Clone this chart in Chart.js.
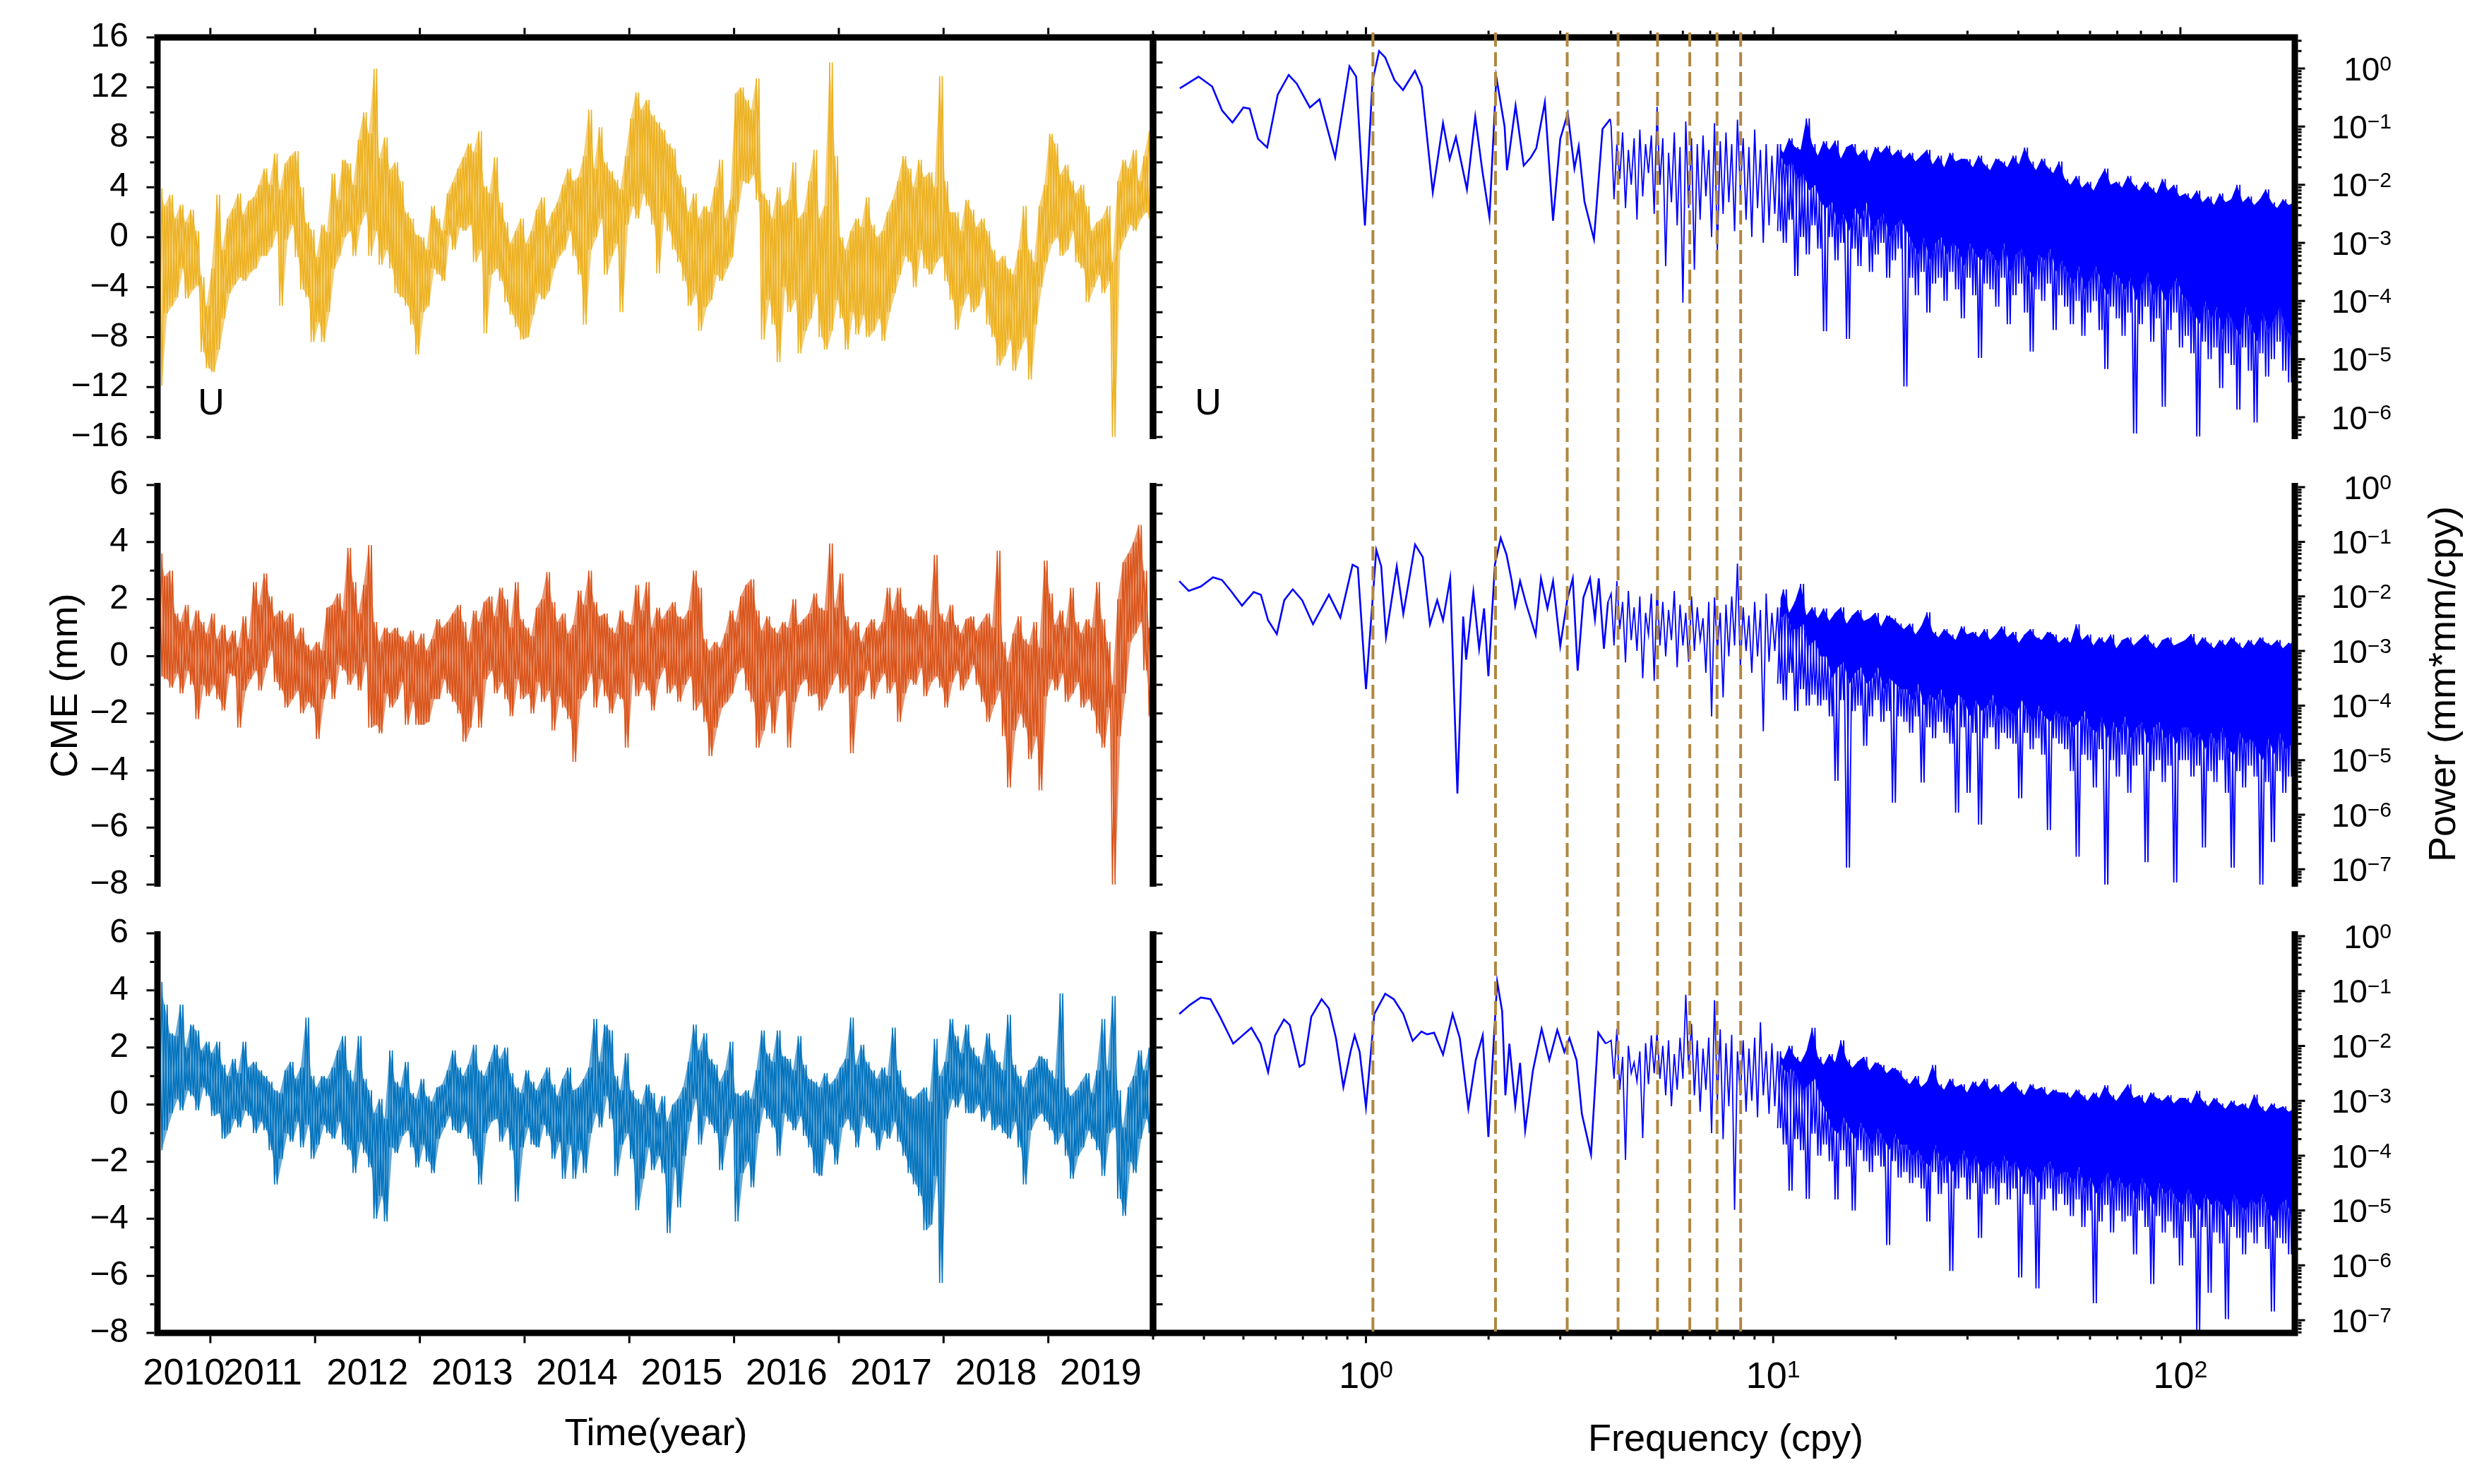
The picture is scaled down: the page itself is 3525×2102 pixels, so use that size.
<!DOCTYPE html>
<html><head><meta charset="utf-8">
<script src="https://cdn.jsdelivr.net/npm/chart.js@4.4.0/dist/chart.umd.min.js"></script>
<style>
html,body{margin:0;padding:0;background:#fff;}
body{width:3525px;height:2102px;position:relative;overflow:hidden;font-family:"Liberation Sans",Arial,sans-serif;}
canvas{position:absolute;}
.title{position:absolute;font-size:54px;color:#000;white-space:nowrap;line-height:1;transform:translate(-50%,-50%);}
.rot{transform:translate(-50%,-50%) rotate(-90deg);}
</style></head><body>
<div class="title rot" style="left:90px;top:971px">CME (mm)</div>
<div class="title rot" style="left:3458px;top:969px">Power (mm*mm/cpy)</div>
<div class="title" style="left:929px;top:2028px">Time(year)</div>
<div class="title" style="left:2444px;top:2036px">Frequency (cpy)</div>
<script>
// ===================== DATA =====================
// time axis (years)
const yearTicks = [2011, 2012, 2013, 2014, 2015, 2016, 2017, 2018, 2019];
const yearLabels = ['2010', '2011', '2012', '2013', '2014', '2015', '2016', '2017', '2018', '2019'];
const tsStart = 2010.5, tsBin = 0.05;           // 0.05-yr bins, each with a high and a low reading
const uYTicks = [-16, -12, -8, -4, 0, 4, 8, 12, 16];
const enYTicks = [-8, -6, -4, -2, 0, 2, 4, 6];

// U component (mm): per-bin high / low
const uHigh = [3.9,2.5,3.4,1.5,2.6,1.2,2.2,0.5,-3.2,-5.5,
 -2.5,3.4,-1,1.5,2.3,3.5,1.8,2.9,3.2,4.2,
 5.5,4.2,6.7,3.8,5.9,6.5,6.9,4,1.2,0.6,
 -1.6,1,0.4,5.1,3,6.2,5.9,4.2,7.8,10,
 8.3,13.5,6.3,8,5.4,6,4.5,2,1.5,0.2,
 0,-1,2.5,1.5,0.5,3.5,4.4,5.5,6.4,7.5,
 6.8,8.5,4.1,3.5,6.4,2.8,1.2,-0.5,0.5,1.5,
 -0.5,0.5,2.2,3.2,0.9,2,2.8,4.2,5.5,4.5,
 4.8,6.5,10.2,5.5,8.8,6,5.3,4.6,3.8,6.5,
 9.5,11.6,10.2,11,9.8,9.2,8.6,7.5,7.1,5,
 4,2,3.5,1.5,2.5,2,4,6.2,1.5,3,
 11.5,12,11,10.2,12.7,3.5,3,1.5,4,2.5,
 3,6,1.5,2,4.5,7,1.5,2.5,14,6.5,
 0,-1,0.5,1.5,0.8,3.2,1,0,0.5,2,
 3,4.5,6.5,5.5,4,6.2,4.8,5.2,4,12.9,
 4.5,2,2,0.5,3,2.2,0.8,1.5,0.5,-1,
 -2,-1.5,-2.5,-3,-1,2.5,-1,-2,2.5,4.2,
 8.3,7.5,5,5.8,4.5,3.5,4.2,2.5,0.5,1.2,
 1.5,2.5,-2,4.5,6.2,5.5,7,4.5,6.5,8.5];
const uLow = [-11.9,-6.1,-5.5,-4.8,-2.5,-4.9,-4.2,-3.8,-9.2,-10.5,
 -10.8,-9,-6.5,-4.5,-3.8,-3.2,-3.5,-2.8,-2.5,-1.5,
 -1.5,-0.8,0.5,-5.5,-0.2,1,-1.6,-4.2,-4.8,-8.4,
 -6.8,-8.4,-6,-2.5,-1.5,0,0.5,-1.5,1,2,
 -1.5,0.5,-2.2,-1,-2.5,-4.5,-4.8,-5.5,-7,-9.4,
 -6,-5.5,-2.5,-3,-3.5,0.2,-1,0.8,0.5,1,
 -2,-1,-7.7,-3,-2.5,-3.5,-5.2,-6.2,-7.2,-8.2,
 -8,-6.2,-4.5,-5,-4.3,-2.5,-1.5,-1,0.5,-1.5,
 -3,-7,-1,0,1.5,-3,-1.5,-0.5,-6,1,
 2.5,1.5,3.5,2.5,1,-2.9,2,0.5,-1,-2,
 -3.5,-5.5,-4.5,-7.5,-5.6,-5,-3,-3.5,-2.5,-1.6,
 2,4.5,4.3,5,3,-8.2,-5,-7,-10,-4,
 -6,-5,-9.3,-7.5,-6.5,-4.5,-8,-9,-7.5,-5,
 -6.5,-9,-6,-7.8,-6.2,-8,-7.5,-6.5,-8.3,-6,
 -4.5,-3,-1.5,-2,-4,-1,-2.5,-3,-2,-1.5,
 -3.5,-5,-7.4,-5.5,-4.5,-6,-5.5,-4,-7,-8,
 -10.3,-9.5,-8.2,-10.7,-9,-8,-11.4,-7,-4,-2,
 -0.5,0,-1.5,-1,0.5,-2,-2.5,-5.2,-4,-3,
 -4.5,-3.5,-16,-1,0,1,0.5,1.5,2,1.5];

// E component (mm)
const eHigh = [3.6,2.8,3.0,1.5,1.2,1.8,0.9,1.6,1.2,0.8,
 1.5,0.6,1.1,0.5,0.9,0.3,1.4,0.6,2.6,1.8,
 2.9,2.1,1.4,1.6,1.2,1.5,0.6,1.0,0.4,0.2,
 0.5,0.2,1.7,1.8,2.2,1.6,3.8,2.6,1.5,2.5,
 3.9,1.2,0.5,1.0,0.8,1.0,0.7,0.5,0.9,0.4,
 0.8,0.2,0.6,1.3,1.0,1.2,1.5,1.8,1.2,0.5,
 1.6,1.2,1.9,2.1,1.4,2.4,2.0,1.0,2.6,1.3,
 1.0,0.7,1.7,2.0,2.95,1.9,1.2,1.5,0.8,1.1,
 2.3,1.8,3.0,1.9,1.4,1.5,1.0,0.8,1.6,1.2,
 1.1,2.5,1.6,2.6,1.0,1.7,1.3,1.6,1.9,1.4,
 1.3,1.6,3.0,2.4,0.6,0.2,0.5,0.3,0.8,1.6,
 1.2,2.1,2.5,2.7,1.6,0.9,1.4,1.0,0.8,1.2,
 1.0,2.0,1.1,1.3,1.5,2.2,1.7,1.6,3.95,1.7,
 2.9,1.4,0.9,1.2,0.5,1.0,1.3,0.9,1.2,2.4,
 1.6,2.4,1.7,1.4,1.3,1.8,1.6,1.1,3.55,1.5,
 1.2,1.8,1.1,0.8,1.3,1.4,0.9,1.2,1.5,1.0,
 3.7,0.5,-0.2,0.8,1.4,0.6,0.4,1.2,0.3,3.35,
 2.2,1.1,1.6,1.0,2.4,1.2,0.8,1.3,1.0,2.6,
 1.3,0.5,-1,2.0,3.3,3.6,4.0,4.6,3.0,1.0];
const eLow = [-0.7,-0.8,-1.1,-0.6,-1.3,-0.5,-1,-2.2,-1,-1.4,
 -1,-1.5,-1.9,-0.6,-0.7,-2.5,-1.2,-0.8,-0.5,-1.2,
 -0.4,0.2,-0.9,-1.2,-1.8,-1.5,-1.2,-2.0,-1.6,-1.8,
 -2.9,-1.5,-0.8,-1.5,-0.3,-0.5,-1,-0.6,-1.2,-0.2,
 -2.5,-2.4,-2.7,-1.3,-1.8,-1.5,-0.9,-2.4,-1.6,-2.4,
 -2.4,-2.3,-1.5,-1.5,-0.8,-1.3,-1.6,-2.0,-3.0,-2.5,
 -1.4,-2.5,-0.8,-0.5,-1.3,-0.9,-1.5,-2.1,-0.8,-1.5,
 -1.3,-2.0,-0.9,-1.6,-1.2,-2.6,-1.4,-1.8,-2.2,-3.7,
 -1.5,-1.2,-0.6,-1.8,-0.8,-1.4,-2.0,-1.3,-1.5,-3.2,
 -0.6,-1.4,-0.9,-1.2,-1.9,-0.8,-0.4,-1.3,-1.0,-1.6,
 -1.0,-0.7,-1.9,-1.6,-2.3,-3.5,-2.5,-1.8,-1.6,-1.3,
 -0.6,-0.4,-1.2,-1.6,-3.2,-2.6,-1.6,-2.7,-1.4,-1.2,
 -3.2,-1.6,-1.0,-0.8,-1.4,-1.3,-1.9,-1.5,-1.0,-0.6,
 -1.3,-1.0,-3.4,-1.4,-1.2,-0.5,-1.5,-0.9,-0.6,-1.3,
 -0.9,-2.3,-1.3,-0.8,-1.0,-0.4,-1.4,-0.9,-0.7,-1.1,
 -1.8,-0.9,-0.5,-1.2,-0.8,-0.3,-1.0,-1.6,-2.3,-1.7,
 -1.2,-2.8,-4.6,-2.6,-2.0,-2.5,-3.6,-2.8,-4.7,-1.4,
 -0.8,-1.2,-0.6,-1.6,-1.3,-0.9,-1.8,-1.5,-1.9,-2.7,
 -3.2,-1.8,-8.0,-2.8,-1.3,0.5,0.8,1.2,-0.5,-2.1];

// N component (mm)
const nHigh = [4.3,3.5,2.5,2.4,3.5,2.0,2.8,2.6,1.9,2.2,
 1.8,2.2,1.4,1.0,1.6,1.1,2.2,1.3,1.5,1.2,
 1.0,0.8,0.5,0.4,1.2,1.5,0.9,1.3,3.05,1.0,
 0.6,1.0,0.9,1.3,1.9,2.4,1.2,0.8,2.4,0.9,
 0.5,-0.3,0.2,-0.5,1.9,0.8,0.6,1.5,0.4,0.2,
 0.9,0.3,0.1,0.6,0.7,1.2,1.9,1.3,1.0,1.4,
 2.1,1.2,1.0,1.5,2.1,1.6,2.0,1.1,0.6,0.4,
 1.2,0.8,0.5,0.9,1.3,0.7,0.3,0.9,1.3,0.5,
 0.6,0.9,1.3,3.0,1.5,2.8,2.6,1.0,0.5,1.8,
 0.5,0.2,0.0,0.7,0.4,-0.3,0.3,-0.6,0.0,0.2,
 0.6,1.5,2.8,1.9,2.5,1.6,1.4,0.8,1.2,2.2,
 0.4,0.3,0.5,0.2,1.2,2.6,1.8,1.5,2.6,1.7,
 1.6,1.2,2.4,1.4,0.9,0.8,0.6,1.1,0.7,0.9,
 1.3,1.6,3.05,1.4,2.1,1.5,1.2,0.9,1.3,1.0,
 2.7,1.2,0.6,0.3,0.2,0.4,0.6,0.1,2.3,1.0,
 1.5,3.0,2.4,1.8,2.8,2.0,1.7,1.4,2.5,1.9,
 1.5,1.2,3.15,1.4,1.0,0.6,1.2,1.3,1.7,1.6,
 1.2,0.9,3.9,0.6,0.3,0.5,0.8,1.1,0.4,1.2,
 3.0,1.2,3.8,0.5,-0.8,0.6,1.0,1.9,1.2,2.0];
const nLow = [-1.6,-0.9,-0.3,0.2,-0.2,0.5,0.3,-0.2,0.6,0.3,
 -0.4,-0.3,-1.2,-1.0,-0.5,-0.8,-0.2,-0.4,-1.0,-0.6,
 -0.9,-1.6,-2.8,-1.9,-1.0,-1.3,-0.6,-1.5,-0.7,-1.9,
 -1.4,-0.7,-1.0,-1.2,-0.6,-1.4,-1.6,-2.4,-1.3,-1.7,
 -2.2,-4.0,-3.2,-4.1,-1.5,-1.7,-1.1,-0.9,-1.5,-2.2,
 -1.4,-2.0,-2.4,-1.2,-0.8,-0.4,-0.9,-1.0,-0.6,-1.2,
 -1.8,-2.8,-1.0,-0.6,-0.5,-1.3,-0.8,-1.6,-3.4,-1.5,
 -0.8,-1.4,-1.5,-0.7,-1.1,-1.9,-1.3,-2.6,-1.4,-2.6,
 -1.6,-2.4,-1.0,-0.3,-0.8,0.3,-0.5,-2.5,-1.4,-1.0,
 -1.9,-3.7,-2.6,-1.5,-2.3,-1.8,-2.4,-4.5,-2.2,-3.6,
 -1.8,-0.6,0.2,-1.4,-0.4,-0.7,-1.0,-2.3,-1.1,-0.5,
 -4.1,-2.4,-2.0,-2.9,-1.0,-0.1,-0.5,-0.8,-1.8,-0.3,
 -0.6,-0.9,-0.4,-1.1,-1.5,-2.4,-2.5,-1.2,-1.4,-2.1,
 -0.8,-0.5,-0.9,-1.5,-0.4,-0.8,-1.0,-1.6,-0.9,-1.2,
 -0.6,-1.3,-1.8,-2.4,-2.8,-3.2,-4.4,-4.2,-2.5,-6.25,
 -0.5,0.2,-0.1,0.4,-0.3,-0.3,0.0,-0.6,-0.2,-0.9,
 -0.7,-1.0,-1.2,-0.6,-1.5,-2.8,-0.9,-0.5,-0.3,-0.6,
 -0.9,-1.4,-1.0,-1.8,-2.6,-1.8,-1.5,-0.9,-1.2,-1.6,
 -2.5,-1.0,-0.8,-3.3,-3.9,-2.0,-2.4,-1.2,-0.5,-1.0];

// spectra: frequency (cpy) and log10 power (mm*mm/cpy), low-frequency part
const uSpecFreq = [0.349,0.388,0.419,0.443,0.470,0.50,0.518,0.543,0.572,0.607,0.646,0.676,0.728,0.769,0.840,0.911,0.946,0.994,1.037,1.077,1.115,1.175,1.233,1.319,1.371,1.459,1.546,1.605,1.663,1.77,1.855,1.93,2.01,2.09,2.19,2.22,2.33,2.44,2.54,2.62,2.75,2.88,3.0,3.13,3.25,3.33,3.44,3.63,3.81,3.98];
const uSpecLogPow = [-0.34,-0.14,-0.31,-0.72,-0.93,-0.67,-0.69,-1.21,-1.36,-0.45,-0.11,-0.26,-0.67,-0.53,-1.53,0.04,-0.14,-2.7,-0.23,0.30,0.19,-0.20,-0.37,-0.04,-0.31,-2.13,-0.94,-1.56,-1.18,-2.08,-0.83,-1.75,-2.56,-0.15,-1.0,-1.75,-0.64,-1.67,-1.53,-1.37,-0.58,-2.62,-1.21,-0.77,-1.72,-1.34,-2.29,-2.94,-1.04,-0.87];
const eSpecFreq = [0.348,0.367,0.393,0.421,0.443,0.468,0.496,0.53,0.552,0.575,0.604,0.63,0.661,0.697,0.741,0.811,0.865,0.927,0.955,1.0,1.06,1.09,1.12,1.19,1.235,1.32,1.379,1.436,1.496,1.546,1.61,1.677,1.733,1.762,1.835,1.896,1.95,1.998,2.073,2.142,2.213,2.28,2.325,2.39,2.47,2.61,2.69,2.79,2.88,3.0,3.12,3.22,3.31,3.42,3.55,3.65,3.73,3.84,3.93];
const eSpecLogPow = [-1.72,-1.90,-1.82,-1.65,-1.70,-1.92,-2.17,-1.92,-1.97,-2.44,-2.69,-2.07,-1.87,-2.07,-2.51,-1.97,-2.39,-1.42,-1.47,-3.70,-1.15,-1.45,-2.74,-1.45,-2.32,-1.05,-1.28,-2.51,-2.07,-2.44,-1.67,-5.61,-2.37,-3.16,-1.92,-2.96,-2.22,-3.46,-1.42,-0.93,-1.23,-1.72,-2.17,-1.72,-2.12,-2.71,-1.67,-2.22,-1.72,-2.91,-2.07,-1.67,-3.36,-2.02,-1.67,-2.42,-1.67,-2.96,-2.1];
const nSpecFreq = [0.348,0.37,0.393,0.415,0.438,0.472,0.523,0.551,0.575,0.598,0.629,0.65,0.687,0.705,0.734,0.778,0.811,0.844,0.88,0.916,0.938,0.965,1.0,1.048,1.115,1.17,1.235,1.302,1.368,1.413,1.47,1.546,1.632,1.70,1.784,1.86,1.935,1.998,2.056,2.10,2.16,2.2,2.25,2.326,2.39,2.46,2.57,2.70,2.82,2.95,3.07,3.16,3.29,3.39,3.57,3.72,3.88];
const nSpecLogPow = [-1.42,-1.25,-1.12,-1.15,-1.47,-1.96,-1.67,-1.96,-2.48,-1.81,-1.52,-1.62,-2.38,-2.33,-1.47,-1.15,-1.32,-1.86,-2.75,-2.11,-1.81,-2.11,-3.12,-1.42,-1.05,-1.15,-1.42,-1.91,-1.74,-1.79,-1.76,-2.16,-1.42,-1.86,-3.14,-2.26,-1.81,-3.66,-2.01,-0.83,-1.37,-2.90,-1.96,-3.09,-2.31,-3.54,-2.45,-1.69,-2.26,-1.71,-2.11,-1.86,-2.26,-3.24,-3.98,-1.76,-1.96];

// spectra above 4 cpy: log-spaced bins (start 4 cpy, 0.0141 decade each), per-bin high / low log10 power
const binFreqStart = 4.0, binLogStep = 0.0141;
const uBinHigh = [-1.0,-1.3,-1.1,-1.4,-1.2,-1.05,-1.3,-1.15,-0.66,-1.2,-1.45,-1.1,-1.35,-0.91,-1.2,-1.3,-1.15,-1.4,-0.94,-1.25,-1.1,-1.3,-0.88,-1.2,-1.35,-1.05,-1.4,-1.3,-1.5,
 -1.3,-1.45,-1.2,-1.35,-1.4,-0.86,-1.3,-1.5,-1.25,-1.4,-1.24,-1.55,-1.35,-1.3,-1.5,-1.4,-1.6,-1.35,-1.45,-1.33,-1.5,-1.4,
 -1.55,-1.45,-1.6,-1.5,-1.4,-1.65,-1.5,-1.7,-1.45,-1.6,-1.55,-1.56,-1.7,-1.5,-1.65,-1.75,-1.55,-1.6,-1.7,-1.5,-1.65,-1.36,-1.6,-1.75,-1.55,-1.7,-1.8,-1.6,
 -1.9,-2.0,-1.85,-2.05,-1.95,-2.1,-1.9,-1.72,-2.0,-1.95,-2.05,-1.85,-2.0,-2.1,-1.95,-2.05,-2.15,-1.9,-2.1,-2.0,-2.2,
 -2.15,-2.25,-2.1,-2.3,-2.2,-2.35,-2.15,-2.3,-2.25,-2.0,-2.3,-2.2,-2.35,-2.25,-2.08,-2.3,-2.4,-2.25,-2.35,-2.3];
const uBinLow = [-2.25,-1.9,-2.4,-2.0,-2.6,-2.2,-1.8,-2.5,-2.0,-3.4,-2.3,-2.7,-4.03,-2.4,-3.46,-2.6,-2.2,-2.9,-3.16,-2.5,-2.3,-2.8,-2.1,-2.6,-2.9,-2.4,-3.0,-2.7,-2.5,
 -2.8,-3.0,-2.6,-3.57,-2.9,-3.2,-2.7,-3.1,-4.52,-2.9,-3.3,-3.0,-4.65,-3.1,-3.4,-2.9,-3.5,-3.2,-3.0,-3.6,-3.3,-3.1,
 -5.47,-3.6,-3.9,-3.5,-4.2,-3.7,-3.6,-4.0,-3.5,-3.8,-4.3,-3.6,-3.9,-4.98,-3.7,-3.8,-4.1,-3.6,-4.4,-3.9,-3.7,-4.2,-4.87,-3.8,-4.0,-3.7,-4.5,-3.9,
 -4.1,-4.4,-4.0,-4.6,-4.2,-4.0,-4.5,-5.17,-4.1,-4.3,-4.6,-4.2,-6.28,-4.4,-4.1,-4.7,-4.3,-5.82,-4.5,-4.2,-4.8,
 -4.6,-4.9,-6.33,-4.7,-5.0,-4.8,-5.5,-4.9,-5.1,-5.87,-4.8,-5.2,-6.09,-4.9,-5.3,-5.0,-4.7,-5.2,-5.4,-4.9];
const eBinHigh = [-1.95,-1.72,-2.1,-1.9,-2.2,-2.0,-2.3,-1.95,-1.82,-2.1,-2.25,-1.9,-2.15,-2.3,-2.0,-2.2,-2.4,-2.1,-2.02,-2.3,-2.15,-2.0,-1.4,-2.2,-2.35,-2.1,-2.25,-1.95,-2.3,
 -2.2,-1.87,-2.3,-2.1,-1.77,-2.35,-2.2,-2.4,-2.22,-2.45,-2.3,-2.2,-2.5,-2.35,-2.25,-2.45,-2.4,-2.3,-2.55,-2.35,-2.4,-2.5,
 -2.6,-2.5,-2.7,-2.55,-2.29,-2.65,-2.75,-2.6,-2.7,-2.8,-2.55,-2.7,-2.65,-2.75,-2.6,-2.8,-2.7,-2.55,-2.75,-2.65,-2.85,-2.7,-2.6,-2.75,-2.8,-2.65,-2.7,-2.85,
 -2.75,-2.85,-2.51,-2.8,-2.7,-2.9,-2.75,-2.85,-2.7,-2.95,-2.8,-2.75,-2.9,-2.8,-2.7,-2.85,-2.95,-2.8,-2.75,-2.9,-2.85,
 -2.8,-2.69,-2.9,-2.75,-2.85,-2.95,-2.8,-2.9,-2.75,-2.85,-2.95,-2.8,-2.9,-2.75,-2.85,-2.9,-2.8,-2.95,-2.85,-2.9];
const eBinLow = [-2.9,-2.6,-3.21,-2.8,-3.0,-3.5,-2.7,-3.55,-2.9,-3.1,-2.8,-3.3,-2.9,-3.2,-3.0,-2.8,-3.4,-4.2,-3.0,-3.85,-3.1,-2.9,-3.3,-3.0,-3.4,-3.1,-4.47,-3.2,-3.0,
 -3.6,-3.9,-3.4,-4.1,-3.7,-4.0,-3.8,-4.0,-3.9,-4.2,-5.38,-3.9,-6.97,-4.1,-4.0,-4.74,-4.2,-3.9,-4.3,-4.1,-5.78,-4.2,
 -4.3,-4.5,-4.2,-5.41,-4.4,-4.6,-4.3,-4.5,-4.7,-5.96,-4.4,-5.6,-4.5,-6.18,-4.6,-4.4,-4.8,-4.5,-4.6,-4.7,-5.7,-4.5,-4.8,-4.6,-4.9,-6.28,-4.6,-4.7,
 -4.8,-5.2,-6.77,-4.9,-5.0,-5.5,-4.8,-7.29,-5.0,-5.3,-4.9,-5.6,-5.1,-4.9,-6.87,-5.2,-5.0,-5.4,-5.1,-7.24,-5.0,
 -5.0,-5.3,-5.1,-6.6,-5.2,-5.4,-5.0,-5.6,-6.97,-5.2,-5.5,-5.1,-5.3,-7.29,-5.4,-6.5,-5.2,-5.6,-5.3,-5.5];
const nBinHigh = [-1.9,-1.69,-2.2,-2.0,-2.3,-2.1,-1.95,-1.81,-1.74,-2.0,-1.9,-2.15,-1.85,-1.07,-1.6,-1.9,-2.05,-1.85,-1.17,-1.7,-1.95,-1.8,-2.1,-1.9,-2.05,-1.85,-1.57,-2.1,-1.95,
 -2.1,-2.25,-2.0,-2.2,-2.3,-2.1,-1.67,-2.2,-2.35,-2.15,-2.3,-1.9,-2.25,-2.4,-2.28,-2.2,-2.45,-2.3,-2.35,-2.5,-2.4,-2.45,
 -2.6,-2.7,-2.55,-2.75,-2.65,-2.35,-2.7,-2.8,-2.6,-2.75,-2.7,-2.85,-2.65,-2.75,-2.6,-2.8,-2.7,-2.85,-2.75,-2.65,-2.8,-2.9,-2.7,-2.8,-2.75,-2.9,-2.8,-2.85,
 -2.85,-2.95,-2.8,-2.9,-3.0,-2.85,-2.95,-2.72,-2.9,-3.0,-2.85,-2.7,-2.95,-2.9,-3.05,-2.85,-2.95,-3.0,-2.9,-3.05,-2.95,
 -2.95,-3.05,-2.82,-3.0,-3.1,-2.95,-3.05,-3.15,-3.0,-3.1,-3.05,-3.15,-2.89,-3.1,-3.2,-3.05,-3.15,-3.1,-3.2,-3.15];
const nBinLow = [-2.6,-2.8,-4.08,-2.5,-2.65,-3.68,-2.7,-2.5,-2.6,-2.9,-3.1,-2.8,-2.6,-2.4,-2.9,-3.2,-2.8,-3.59,-3.0,-3.7,-3.1,-4.99,-2.9,-3.2,-3.0,-3.3,-2.9,-3.24,-3.1,
 -3.5,-3.8,-4.64,-3.7,-3.9,-4.79,-3.6,-4.0,-3.8,-4.1,-4.8,-3.9,-4.2,-5.0,-3.9,-4.1,-4.3,-4.0,-4.2,-5.63,-4.1,-4.4,
 -4.3,-4.5,-4.4,-4.6,-5.2,-4.3,-4.7,-4.5,-6.1,-4.6,-4.4,-4.8,-4.5,-5.5,-4.7,-4.6,-4.9,-4.5,-4.8,-4.6,-6.22,-4.7,-4.9,-6.42,-4.8,-4.6,-5.0,-4.7,
 -4.9,-5.1,-4.8,-5.3,-5.0,-6.69,-5.2,-4.9,-5.4,-5.0,-5.2,-5.1,-5.8,-5.0,-5.3,-6.34,-5.1,-5.4,-5.2,-5.5,-6.0,
 -5.2,-5.5,-7.18,-5.3,-6.5,-5.4,-5.6,-6.98,-5.3,-5.5,-5.8,-5.4,-5.6,-5.3,-5.7,-6.84,-5.5,-5.6,-5.8,-5.4];

// lower edge of the solid (densely overlapping) part of each spectrum, per bin from bin 29 (10 cpy), log10 power
const coreFromBin = 29;
const uBinCore = [-1.5,-1.7,-1.6,-1.9,-1.8,-2.1,-2.0,-2.3,-2.4,-2.3,-2.7,-2.5,-2.8,-2.4,-2.6,-2.3,-2.8,-2.6,-2.5,-2.9,-2.7,-2.6,
 -2.8,-3.0,-3.2,-2.9,-3.3,-3.0,-2.9,-3.2,-3.0,-3.1,-3.4,-3.0,-3.2,-3.3,-3.1,-3.2,-3.4,-3.0,-3.5,-3.2,-3.1,-3.4,-3.6,-3.2,-3.3,-3.1,-3.5,-3.3,
 -3.5,-3.7,-3.4,-3.8,-3.6,-3.4,-3.7,-3.9,-3.5,-3.6,-3.8,-3.6,-4.0,-3.7,-3.5,-3.9,-3.7,-4.0,-3.8,-3.6,-3.9,
 -4.0,-4.2,-4.4,-4.0,-4.3,-4.1,-4.5,-4.2,-4.4,-4.6,-4.1,-4.4,-4.7,-4.2,-4.5,-4.3,-4.1,-4.5,-4.6,-4.3];
const eBinCore = [-2.4,-2.3,-2.6,-2.6,-2.5,-2.9,-2.8,-3.1,-3.1,-3.5,-3.3,-3.2,-3.6,-3.4,-3.3,-3.6,-3.5,-3.3,-3.7,-3.5,-3.6,-3.7,
 -3.7,-3.9,-3.6,-4.0,-3.8,-3.9,-3.7,-4.0,-4.1,-3.8,-3.9,-4.2,-3.9,-4.1,-4.0,-3.8,-4.2,-4.0,-4.1,-4.2,-3.9,-4.1,-4.3,-4.0,-4.2,-4.3,-4.1,-4.2,
 -4.2,-4.4,-4.3,-4.1,-4.4,-4.5,-4.2,-4.6,-4.3,-4.5,-4.2,-4.6,-4.4,-4.3,-4.7,-4.4,-4.3,-4.6,-4.5,-4.7,-4.4,
 -4.4,-4.6,-4.5,-4.8,-4.5,-4.7,-4.4,-4.8,-4.9,-4.5,-4.7,-4.6,-4.8,-5.0,-4.6,-4.9,-4.5,-4.8,-4.7,-4.9];
const nBinCore = [-2.3,-2.5,-2.4,-2.6,-2.8,-2.7,-2.6,-3.0,-3.2,-3.5,-3.6,-3.3,-3.5,-3.7,-3.4,-3.6,-3.8,-3.5,-3.7,-3.9,-3.6,-3.8,
 -3.8,-4.0,-3.9,-4.1,-4.2,-3.8,-4.1,-4.0,-4.3,-4.1,-3.9,-4.2,-4.0,-4.3,-4.2,-4.1,-4.3,-4.0,-4.2,-4.1,-4.4,-4.2,-4.3,-4.5,-4.2,-4.1,-4.4,-4.3,
 -4.3,-4.5,-4.2,-4.6,-4.4,-4.7,-4.5,-4.3,-4.6,-4.4,-4.6,-4.5,-4.8,-4.4,-4.6,-4.9,-4.5,-4.7,-4.6,-4.8,-4.9,
 -4.6,-4.8,-5.0,-4.7,-4.9,-4.8,-4.9,-5.1,-4.7,-4.9,-5.0,-4.8,-4.9,-4.7,-5.0,-5.2,-4.9,-4.8,-5.1,-4.9];

// harmonics marked by dashed lines (cpy)
const harmonicFreqs = [1.04, 2.08, 3.12, 4.16, 5.20, 6.24, 7.28, 8.32];

// ===================== BUILD =====================
const FONT = '"Liberation Sans", Arial, sans-serif';
const FW = 9;
const AREA = {left: 223, mid: 1633, right: 3250};
const ROWS = [{top: 53, bottom: 619}, {top: 687, bottom: 1253}, {top: 1322, bottom: 1888}];
const CANV = [[20, 640], [665, 1275], [1300, 1990]];
const LETTER_BASE = [567, 1192, 1827];

// two interleaved zig-zags through the same per-bin high/low readings (dense trace look)
function tsPoints(hi, lo, swap) {
  const pts = [];
  for (let i = 0; i < hi.length; i++) {
    const a = swap ? lo[i] : hi[i], b = swap ? hi[i] : lo[i];
    pts.push({x: tsStart + tsBin * (i + 0.25), y: a});
    pts.push({x: tsStart + tsBin * (i + 0.75), y: b});
  }
  return pts;
}
function tsEdge(vals, off) { return vals.map((v, i) => ({x: tsStart + tsBin * (i + off), y: v})); }
function specSmooth(f, lp) { return f.map((v, i) => ({x: v, y: Math.pow(10, lp[i])})); }
function binFreq(i) { return binFreqStart * Math.pow(10, binLogStep * i); }
function specDense(hi, lo, first, from, swap) {
  const pts = first ? [first] : [];
  for (let i = from; i < hi.length; i++) {
    const a = swap ? lo[i] : hi[i], b = swap ? hi[i] : lo[i];
    pts.push({x: binFreq(i), y: Math.pow(10, a)});
    pts.push({x: binFreq(i + 0.5), y: Math.pow(10, b)});
  }
  return pts;
}
function specEdge(vals, from, off) {
  const pts = [];
  for (let i = from; i < vals.length; i++) pts.push({x: binFreq(i + off), y: Math.pow(10, vals[i])});
  return pts;
}
function specCoreEdge(core) { return core.map((v, k) => ({x: binFreq(coreFromBin + k + 0.5), y: Math.pow(10, v)})); }

function makeCanvas(x0, y0, x1, y1, z) {
  const c = document.createElement('canvas');
  c.width = x1 - x0; c.height = y1 - y0;
  c.style.left = x0 + 'px'; c.style.top = y0 + 'px';
  c.style.width = (x1 - x0) + 'px'; c.style.height = (y1 - y0) + 'px';
  c.style.zIndex = z;
  document.body.appendChild(c);
  return c;
}

function frame(ctx, a, top, bottom) {
  ctx.save();
  ctx.strokeStyle = '#000'; ctx.lineWidth = FW; ctx.lineCap = 'butt';
  ctx.beginPath();
  const t = a.top - (top ? FW / 2 : 3), b = a.bottom + (bottom ? FW / 2 : 3);
  ctx.moveTo(a.left, t); ctx.lineTo(a.left, b);
  ctx.moveTo(a.right, t); ctx.lineTo(a.right, b);
  if (top) { ctx.moveTo(a.left - FW / 2, a.top); ctx.lineTo(a.right + FW / 2, a.top); }
  if (bottom) { ctx.moveTo(a.left - FW / 2, a.bottom); ctx.lineTo(a.right + FW / 2, a.bottom); }
  ctx.stroke();
  ctx.restore();
}

function drawPow(ctx, exp, x, yc, align, baseSize, supSize) {
  const base = '10', sup = exp < 0 ? '\u2212' + (-exp) : String(exp);
  ctx.font = baseSize + 'px ' + FONT; const wb = ctx.measureText(base).width;
  ctx.font = supSize + 'px ' + FONT; const ws = ctx.measureText(sup).width;
  const x0 = align === 'right' ? x - wb - ws : x - (wb + ws) / 2;
  ctx.textAlign = 'left';
  ctx.font = baseSize + 'px ' + FONT; ctx.textBaseline = 'middle'; ctx.fillText(base, x0, yc);
  ctx.font = supSize + 'px ' + FONT; ctx.textBaseline = 'alphabetic'; ctx.fillText(sup, x0 + wb, yc - 1);
}

function fmt(v) { return v < 0 ? '\u2212' + Math.abs(v) : String(v); }

function tsDecor(cfg) {
  return function (chart) {
    const ctx = chart.ctx, a = chart.chartArea, xs = chart.scales.x, ys = chart.scales.y;
    frame(ctx, a, cfg.top, cfg.bottom);
    ctx.save();
    ctx.strokeStyle = '#000'; ctx.fillStyle = '#000'; ctx.lineWidth = 3;
    ctx.beginPath();
    const n = Math.round((ys.max - ys.min) / cfg.minorStep);
    for (let k = 0; k <= n; k++) {
      const v = ys.min + k * cfg.minorStep;
      const y = ys.getPixelForValue(v);
      const len = cfg.ticks.includes(v) ? 11 : 6;
      ctx.moveTo(a.left - FW / 2, y); ctx.lineTo(a.left - FW / 2 - len, y);
      ctx.moveTo(a.right + FW / 2, y); ctx.lineTo(a.right + FW / 2 + 9, y);
    }
    for (const yr of yearTicks) {
      const x = xs.getPixelForValue(yr);
      if (cfg.top) { ctx.moveTo(x, a.top - FW / 2); ctx.lineTo(x, a.top - FW / 2 - 9); }
      if (cfg.bottom) { ctx.moveTo(x, a.bottom + FW / 2); ctx.lineTo(x, a.bottom + FW / 2 + 10); }
    }
    ctx.stroke();
    ctx.font = '48px ' + FONT; ctx.textAlign = 'right'; ctx.textBaseline = 'middle';
    for (const v of cfg.ticks) ctx.fillText(fmt(v), a.left - 41, ys.getPixelForValue(v));
    if (cfg.bottom) {
      ctx.font = '52px ' + FONT; ctx.textAlign = 'center';
      for (const lab of yearLabels) {
        const yr = +lab;
        const x0 = Math.max(yr, xs.min), x1 = Math.min(yr + 1, xs.max);
        ctx.fillText(lab, (xs.getPixelForValue(x0) + xs.getPixelForValue(x1)) / 2, a.bottom + 59);
      }
    }
    ctx.font = '52px ' + FONT; ctx.textAlign = 'center'; ctx.textBaseline = 'alphabetic';
    ctx.fillText(cfg.letter, a.left + 76, cfg.letterBase);
    ctx.restore();
  };
}

function logTicks(min, max) {
  const out = [];
  for (let d = Math.floor(Math.log10(min)); d <= Math.ceil(Math.log10(max)); d++) {
    for (let k = 1; k <= 9; k++) {
      const v = k * Math.pow(10, d);
      if (v >= min * 0.9999 && v <= max * 1.0001) out.push({v, major: k === 1, d});
    }
  }
  return out;
}

function specDecor(cfg) {
  return function (chart) {
    const ctx = chart.ctx, a = chart.chartArea, xs = chart.scales.x, ys = chart.scales.y;
    frame(ctx, a, cfg.top, cfg.bottom);
    ctx.save();
    ctx.strokeStyle = '#000'; ctx.fillStyle = '#000'; ctx.lineWidth = 3;
    ctx.beginPath();
    for (const t of logTicks(ys.min, ys.max)) {
      const y = ys.getPixelForValue(t.v);
      ctx.moveTo(a.right + FW / 2, y); ctx.lineTo(a.right + FW / 2 + (t.major ? 10 : 5), y);
    }
    for (const t of logTicks(xs.min, xs.max)) {
      const x = xs.getPixelForValue(t.v), len = t.major ? 10 : 5;
      if (cfg.top) { ctx.moveTo(x, a.top - FW / 2); ctx.lineTo(x, a.top - FW / 2 - len); }
      if (cfg.bottom) { ctx.moveTo(x, a.bottom + FW / 2); ctx.lineTo(x, a.bottom + FW / 2 + len); }
    }
    ctx.stroke();
    for (const t of logTicks(ys.min, ys.max)) {
      if (!t.major) continue;
      drawPow(ctx, t.d, a.right + 137, ys.getPixelForValue(t.v) + 4, 'right', 46, 30);
    }
    if (cfg.bottom) {
      for (const t of logTicks(xs.min, xs.max)) {
        if (!t.major) continue;
        drawPow(ctx, t.d, xs.getPixelForValue(t.v), a.bottom + 64, 'center', 52, 34);
      }
    }
    ctx.font = '52px ' + FONT; ctx.textAlign = 'center'; ctx.textBaseline = 'alphabetic';
    ctx.fillText(cfg.letter, a.left + 78, cfg.letterBase);
    ctx.restore();
  };
}

function makeChart(box, area, scales, datasets, decor, z) {
  const c = makeCanvas(box[0], box[1], box[2], box[3], z);
  return new Chart(c, {
    type: 'line',
    data: {datasets},
    options: {
      responsive: false, maintainAspectRatio: false, animation: false, devicePixelRatio: 1, events: [],
      layout: {padding: {left: area.left - box[0], top: area.top - box[1], right: box[2] - area.right, bottom: box[3] - area.bottom}},
      plugins: {legend: {display: false}, tooltip: {enabled: false}, title: {display: false}, filler: {propagate: false}},
      elements: {point: {radius: 0}, line: {tension: 0}},
      scales
    },
    plugins: decor ? [{id: 'decor', afterDatasetsDraw: decor}] : []
  });
}

const tsX = {type: 'linear', min: 2010.495, max: 2020.0, display: false};
const tsDefs = [
  {hi: uHigh, lo: uLow, color: '#EDB120', fillc: 'rgba(237,177,32,0.6)', min: -16, max: 16, ticks: uYTicks, minor: 2, letter: 'U'},
  {hi: eHigh, lo: eLow, color: '#D95319', fillc: 'rgba(217,83,25,0.6)', min: -8, max: 6, ticks: enYTicks, minor: 1, letter: 'E'},
  {hi: nHigh, lo: nLow, color: '#0072BD', fillc: 'rgba(0,114,189,0.6)', min: -8, max: 6, ticks: enYTicks, minor: 1, letter: 'N'}
];
tsDefs.forEach((d, r) => {
  makeChart([100, CANV[r][0], 1660, CANV[r][1]],
    {left: AREA.left, right: AREA.mid, top: ROWS[r].top, bottom: ROWS[r].bottom},
    {x: tsX, y: {type: 'linear', min: d.min, max: d.max, display: false}},
    [{data: tsPoints(d.hi, d.lo, false), borderColor: d.color, borderWidth: 1.6, pointRadius: 0, fill: false},
     {data: tsPoints(d.hi, d.lo, true), borderColor: d.color, borderWidth: 1.6, pointRadius: 0, fill: false},
     {data: tsEdge(d.hi, 0.25), borderWidth: 0, borderColor: 'rgba(0,0,0,0)', backgroundColor: d.fillc, pointRadius: 0, fill: '+1'},
     {data: tsEdge(d.lo, 0.75), borderWidth: 0, borderColor: 'rgba(0,0,0,0)', pointRadius: 0, fill: false}],
    tsDecor({top: r === 0, bottom: r === 2, ticks: d.ticks, minorStep: d.minor, letter: d.letter, letterBase: LETTER_BASE[r]}), 1);
});

const specX = {type: 'logarithmic', min: 0.344, max: 191, display: false};
const specDefs = [
  {f: uSpecFreq, p: uSpecLogPow, hi: uBinHigh, lo: uBinLow, core: uBinCore, min: Math.pow(10, -6.34), max: Math.pow(10, 0.535), letter: 'U'},
  {f: eSpecFreq, p: eSpecLogPow, hi: eBinHigh, lo: eBinLow, core: eBinCore, min: Math.pow(10, -7.28), max: Math.pow(10, 0.04), letter: 'E'},
  {f: nSpecFreq, p: nSpecLogPow, hi: nBinHigh, lo: nBinLow, core: nBinCore, min: Math.pow(10, -7.23), max: Math.pow(10, 0.05), letter: 'N'}
];
specDefs.forEach((d, r) => {
  const smooth = specSmooth(d.f, d.p);
  makeChart([1610, CANV[r][0], 3420, CANV[r][1]],
    {left: AREA.mid, right: AREA.right, top: ROWS[r].top, bottom: ROWS[r].bottom},
    {x: specX, y: {type: 'logarithmic', min: d.min, max: d.max, display: false}},
    [{data: smooth, borderColor: '#0000FF', borderWidth: 2.6, pointRadius: 0, fill: false},
     {data: specDense(d.hi, d.lo, smooth[smooth.length - 1], 0, false), borderColor: '#0000FF', borderWidth: 1.8, pointRadius: 0, fill: false},
     {data: specDense(d.hi, d.lo, null, 29, true), borderColor: '#0000FF', borderWidth: 1.8, pointRadius: 0, fill: false},
     {data: specEdge(d.hi, coreFromBin, 0), borderWidth: 0, borderColor: 'rgba(0,0,0,0)', backgroundColor: '#0000FF', pointRadius: 0, fill: '+1'},
     {data: specCoreEdge(d.core), borderWidth: 0, borderColor: 'rgba(0,0,0,0)', pointRadius: 0, fill: false}],
    specDecor({top: r === 0, bottom: r === 2, letter: d.letter, letterBase: LETTER_BASE[r]}), 1);
});

// dashed harmonic lines across all three spectra
makeChart([1610, 0, 3420, 1900], {left: AREA.mid, right: AREA.right, top: 40, bottom: 1886},
  {x: specX, y: {type: 'linear', min: 0, max: 1, display: false}},
  harmonicFreqs.map(f => ({data: [{x: f, y: 0}, {x: f, y: 1}], borderColor: '#B08840', borderWidth: 4, borderDash: [20, 8], pointRadius: 0, fill: false})),
  null, 3);
</script>
</body></html>
